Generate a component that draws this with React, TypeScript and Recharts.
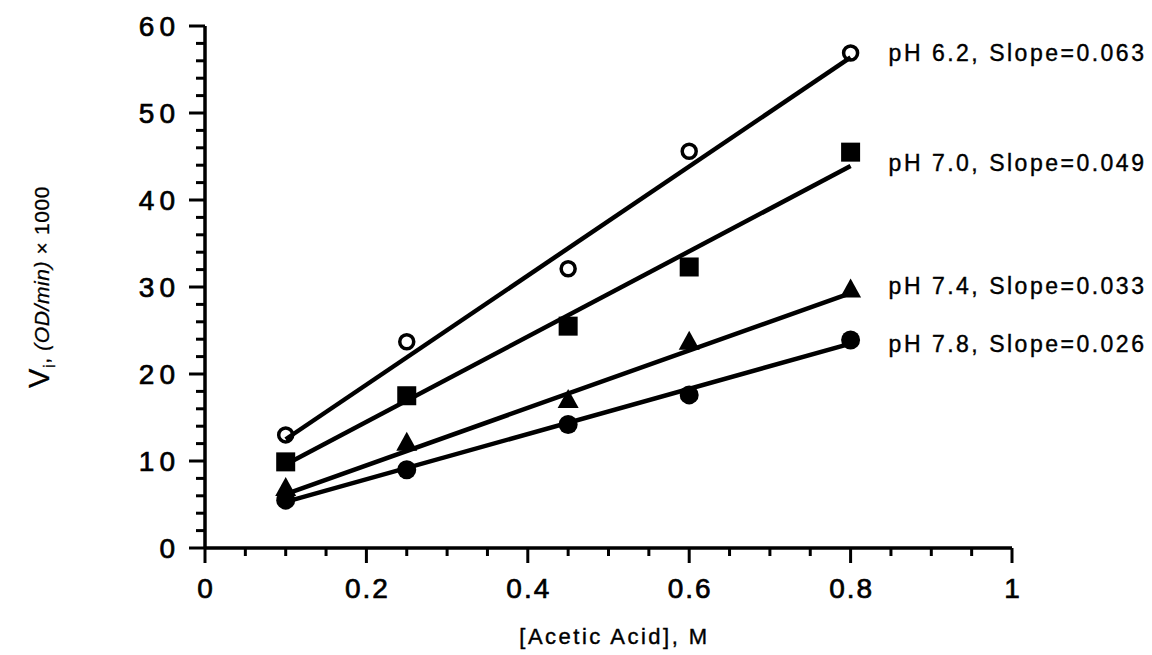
import React from 'react';
import { ComposedChart, Line, Scatter, XAxis, YAxis, Label } from 'recharts';

// acid concentration (M) and initial velocities (OD/min x1000)
const acidConc = [0.1, 0.25, 0.45, 0.6, 0.8];
const vPH62 = [13.0, 23.7, 32.1, 45.6, 56.9];
const vPH70 = [9.9, 17.5, 25.5, 32.3, 45.5];
const vPH74 = [6.9, 12.1, 17.0, 23.7, 29.7];
const vPH78 = [5.5, 9.0, 14.2, 17.6, 23.9];

// regression line end points
const fitRange = [0.1, 0.8];
const fitPH62 = [12.5, 56.4];
const fitPH70 = [9.6, 43.9];
const fitPH74 = [6.2, 29.3];
const fitPH78 = [5.3, 23.5];

const seriesLabels = [
  'pH 6.2, Slope=0.063',
  'pH 7.0, Slope=0.049',
  'pH 7.4, Slope=0.033',
  'pH 7.8, Slope=0.026',
];

const xTicks = [0, 0.05, 0.1, 0.15, 0.2, 0.25, 0.3, 0.35, 0.4, 0.45, 0.5, 0.55, 0.6, 0.65, 0.7, 0.75, 0.8, 0.85, 0.9, 0.95, 1];
const xTickLabels = ['0', '0.2', '0.4', '0.6', '0.8', '1'];
const yTicks = [0, 2, 4, 6, 8, 10, 12, 14, 16, 18, 20, 22, 24, 26, 28, 30, 32, 34, 36, 38, 40, 42, 44, 46, 48, 50, 52, 54, 56, 58, 60];
const yTickLabels = ['0', '10', '20', '30', '40', '50', '60'];

const FONT = "'Liberation Sans', Arial, Helvetica, sans-serif";

const toPoints = (xs: number[], ys: number[]) => xs.map((x, i) => ({ x, y: ys[i] }));

const series = [
  { marker: 'openCircle', values: vPH62, fit: fitPH62, label: seriesLabels[0], dy: 0 },
  { marker: 'square', values: vPH70, fit: fitPH70, label: seriesLabels[1], dy: 11 },
  { marker: 'triangle', values: vPH74, fit: fitPH74, label: seriesLabels[2], dy: -4 },
  { marker: 'circle', values: vPH78, fit: fitPH78, label: seriesLabels[3], dy: 4 },
];

const XTick = (props: any) => {
  const { x, y, payload } = props;
  const idx = xTickLabels.indexOf(String(payload.value));
  const major = idx >= 0;
  return (
    <g>
      <line x1={x} y1={y} x2={x} y2={y + (major ? 15 : 8)} stroke="#000" strokeWidth={3} />
      {major && (
        <text x={x + 1} y={y + 50} textAnchor="middle" fontFamily={FONT} fontSize={28} letterSpacing={2}
          fill="#000" stroke="#000" strokeWidth={0.7}>
          {xTickLabels[idx]}
        </text>
      )}
    </g>
  );
};

const YTick = (props: any) => {
  const { x, y, payload } = props;
  const idx = yTickLabels.indexOf(String(payload.value));
  const major = idx >= 0;
  return (
    <g>
      <line x1={x} y1={y} x2={x - (major ? 16 : 9)} y2={y} stroke="#000" strokeWidth={3} />
      {major && (
        <text x={x - 25} y={y} dy="0.36em" textAnchor="end" fontFamily={FONT} fontSize={28} letterSpacing={5}
          fill="#000" stroke="#000" strokeWidth={0.7}>
          {yTickLabels[idx]}
        </text>
      )}
    </g>
  );
};

const makeShape = (marker: string, label: string, dy: number) => (props: any) => {
  const { cx, cy, index } = props;
  let mark;
  if (marker === 'openCircle') {
    mark = <circle cx={cx} cy={cy} r={7} fill="none" stroke="#000" strokeWidth={3.5} />;
  } else if (marker === 'square') {
    mark = <rect x={cx - 9.5} y={cy - 9.5} width={19} height={19} fill="#000" />;
  } else if (marker === 'triangle') {
    mark = <polygon points={`${cx},${cy - 11} ${cx - 10.5},${cy + 8} ${cx + 10.5},${cy + 8}`} fill="#000" />;
  } else {
    mark = <circle cx={cx} cy={cy} r={9.5} fill="#000" />;
  }
  return (
    <g>
      {mark}
      {index === acidConc.length - 1 && (
        <text x={cx + 38} y={cy + dy} dy="0.36em" fontFamily={FONT} fontSize={23} letterSpacing={2.5}
          fill="#000" stroke="#000" strokeWidth={0.4}>
          {label}
        </text>
      )}
    </g>
  );
};

export default function App() {
  return (
    <div style={{ width: 1144, height: 647, background: '#fff' }}>
      <ComposedChart width={1144} height={647} margin={{ top: 18, right: 140, bottom: 67, left: 137 }}>
        <XAxis
          type="number"
          dataKey="x"
          domain={[0, 1]}
          ticks={xTicks}
          interval={0}
          tickSize={0}
          tickMargin={0}
          tick={<XTick />}
          axisLine={{ stroke: '#000', strokeWidth: 3.5 }}
          height={40}
        >
          <Label
            content={(p: any) => (
              <text
                x={p.viewBox.x + p.viewBox.width / 2 + 6}
                y={p.viewBox.y + 96}
                textAnchor="middle"
                fontFamily={FONT}
                fontSize={22}
                letterSpacing={2.5}
                fill="#000"
                stroke="#000"
                strokeWidth={0.4}
              >
                [Acetic Acid], M
              </text>
            )}
          />
        </XAxis>
        <YAxis
          type="number"
          domain={[0, 60]}
          ticks={yTicks}
          interval={0}
          tickSize={0}
          tickMargin={0}
          tick={<YTick />}
          axisLine={{ stroke: '#000', strokeWidth: 3.5 }}
          width={60}
        >
          <Label
            content={(p: any) => {
              const cy = p.viewBox.y + p.viewBox.height / 2;
              const cx = 41;
              return (
                <text
                  x={cx}
                  y={cy}
                  transform={`rotate(-90 ${cx} ${cy})`}
                  textAnchor="middle"
                  fontFamily={FONT}
                  fontSize={21}
                  letterSpacing={0.6}
                  fill="#000"
                  stroke="#000"
                  strokeWidth={0.3}
                >
                  <tspan fontSize={29}>V</tspan>
                  <tspan fontSize={17} dy={6}>i</tspan>
                  <tspan dy={-6}>, </tspan>
                  <tspan fontStyle="italic">(OD/min)</tspan>
                  <tspan> × 1000</tspan>
                </text>
              );
            }}
          />
        </YAxis>
        {series.map((s, i) => (
          <Line
            key={`fit-${i}`}
            data={toPoints(fitRange, s.fit)}
            dataKey="y"
            type="linear"
            stroke="#000"
            strokeWidth={4.5}
            dot={false}
            activeDot={false}
            isAnimationActive={false}
          />
        ))}
        {series.map((s, i) => (
          <Scatter
            key={`pts-${i}`}
            data={toPoints(acidConc, s.values)}
            dataKey="y"
            shape={makeShape(s.marker, s.label, s.dy)}
            isAnimationActive={false}
          />
        ))}
      </ComposedChart>
    </div>
  );
}
